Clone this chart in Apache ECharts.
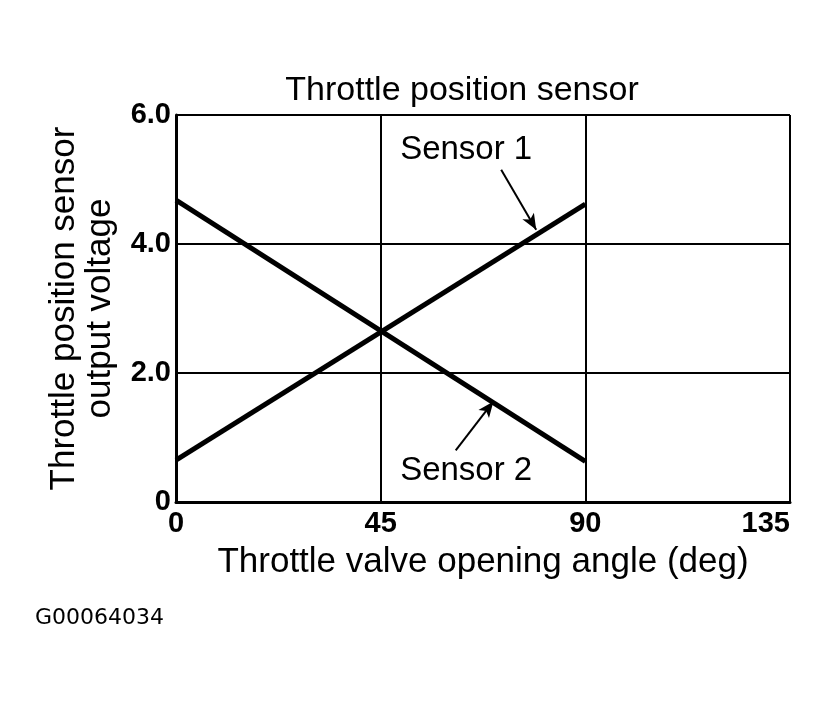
<!DOCTYPE html>
<html>
<head>
<meta charset="utf-8">
<script src="https://cdn.jsdelivr.net/npm/echarts@6/dist/echarts.min.js"></script>
<style>
  html, body { margin: 0; padding: 0; background: #fff; }
  #chart { width: 834px; height: 704px; }
</style>
</head>
<body>
<div id="chart"></div>
<script>
// throttle angle (deg) vs sensor output voltage (V)
const angles = [0, 90];
const sensor1 = [0.65, 4.62];
const sensor2 = [4.68, 0.63];
const xTicks = [0, 45, 90, 135];
const yTicks = [0, 2, 4, 6];

// annotation arrows: [tail, tip] in data units
const arrow1 = [[71.5, 5.15], [79.2, 4.22]];
const arrow2 = [[61.5, 0.8], [69.8, 1.56]];
const label1 = [63.8, 5.46];
const label2 = [63.8, 0.48];

const font = "'Liberation Sans', Arial, sans-serif";

const chart = echarts.init(document.getElementById("chart"));

chart.setOption({
  animation: false,
  backgroundColor: "#fff",
  title: {
    text: "Throttle position sensor",
    left: 457,
    top: 69,
    textAlign: "center",
    textStyle: { fontFamily: font, fontSize: 34, fontWeight: "normal", color: "#000" }
  },
  grid: { left: 176, right: 44, top: 115, bottom: 202 },
  xAxis: {
    type: "value",
    min: xTicks[0],
    max: xTicks[xTicks.length - 1],
    interval: 45,
    name: "Throttle valve opening angle (deg)",
    nameLocation: "middle",
    nameGap: 43,
    nameTextStyle: { fontFamily: font, fontSize: 35, color: "#000" },
    axisLine: { lineStyle: { color: "#000", width: 3 } },
    axisTick: { show: false },
    axisLabel: {
      fontFamily: font, fontSize: 29, fontWeight: "bold", color: "#000", margin: 7,
      alignMaxLabel: "right"
    },
    splitLine: { lineStyle: { color: "#000", width: 2 } }
  },
  yAxis: {
    type: "value",
    min: yTicks[0],
    max: yTicks[yTicks.length - 1],
    interval: 2,
    name: "Throttle position sensor\noutput voltage",
    nameLocation: "middle",
    nameGap: 58,
    nameTextStyle: { fontFamily: font, fontSize: 35, color: "#000", lineHeight: 36 },
    axisLine: { lineStyle: { color: "#000", width: 3 } },
    axisTick: { show: false },
    axisLabel: {
      fontFamily: font, fontSize: 29, fontWeight: "bold", color: "#000", margin: 5,
      formatter: v => (v === 0 ? "0" : v.toFixed(1))
    },
    splitLine: { lineStyle: { color: "#000", width: 2 } }
  },
  series: [
    {
      name: "Sensor 1",
      type: "line",
      data: angles.map((a, i) => [a, sensor1[i]]),
      symbol: "none",
      lineStyle: { color: "#000", width: 5 },
      markLine: {
        silent: true,
        symbol: ["none", "arrow"],
        symbolSize: [10, 16],
        lineStyle: { color: "#000", width: 2, type: "solid" },
        label: { show: false },
        data: [[{ coord: arrow1[0] }, { coord: arrow1[1] }]]
      },
      markPoint: {
        symbolSize: 0,
        label: { show: true, formatter: "Sensor 1", fontFamily: font, fontSize: 33, color: "#000" },
        data: [{ coord: label1 }]
      }
    },
    {
      name: "Sensor 2",
      type: "line",
      data: angles.map((a, i) => [a, sensor2[i]]),
      symbol: "none",
      lineStyle: { color: "#000", width: 5 },
      markLine: {
        silent: true,
        symbol: ["none", "arrow"],
        symbolSize: [10, 16],
        lineStyle: { color: "#000", width: 2, type: "solid" },
        label: { show: false },
        data: [[{ coord: arrow2[0] }, { coord: arrow2[1] }]]
      },
      markPoint: {
        symbolSize: 0,
        label: { show: true, formatter: "Sensor 2", fontFamily: font, fontSize: 33, color: "#000" },
        data: [{ coord: label2 }]
      }
    }
  ],
  graphic: [
    {
      type: "text",
      left: 35,
      top: 607,
      style: { text: "G00064034", font: "22px 'DejaVu Sans', sans-serif", fill: "#000" }
    }
  ]
});
</script>
</body>
</html>
